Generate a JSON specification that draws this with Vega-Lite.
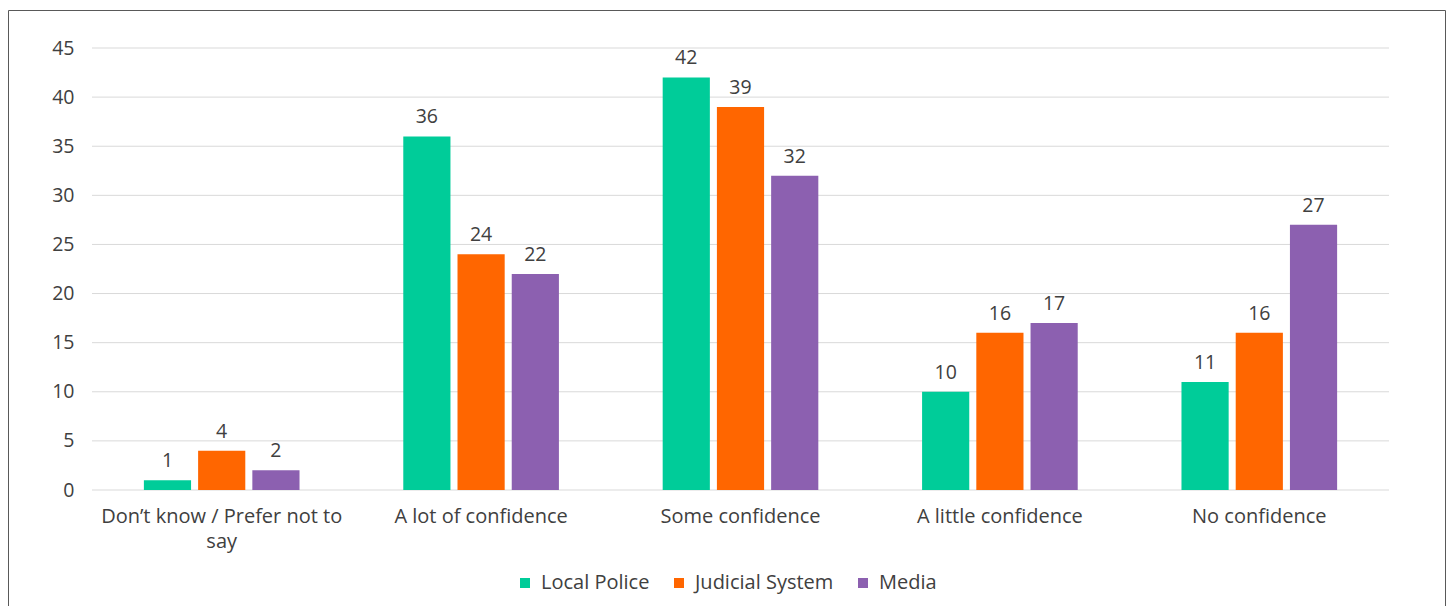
{
  "$schema": "https://vega.github.io/schema/vega-lite/v6.json",
  "width": 1437,
  "height": 600,
  "autosize": {"type": "none"},
  "padding": {"left": 8, "top": 10, "right": 5, "bottom": 0},
  "background": "white",
  "config": {
    "font": "Open Sans",
    "view": {"stroke": "#595959", "strokeWidth": 1},
    "axisY": {"domain": false, "ticks": false, "grid": false, "labelPadding": 0, "offset": -66, "labelFontSize": 19.5, "labelColor": "#404040", "labelFont": "Open Sans"},
    "axisX": {"domain": false, "ticks": false, "grid": false, "labelPadding": 0, "offset": -104, "labelFontSize": 20, "labelColor": "#404040", "labelFont": "Open Sans", "labelAngle": 0, "labelLineHeight": 25, "labelBaseline": "top", "labelLimit": 300},
    "legend": {"orient": "none", "legendX": 507, "legendY": 563, "direction": "horizontal", "symbolType": "square", "symbolSize": 100, "symbolStrokeWidth": 0, "labelFontSize": 20, "labelColor": "#404040", "labelFont": "Open Sans", "columnPadding": 19, "labelOffset": 6, "padding": 0}
  },
  "datasets": {
    "grid": [{"v": 0}, {"v": 5}, {"v": 10}, {"v": 15}, {"v": 20}, {"v": 25}, {"v": 30}, {"v": 35}, {"v": 40}, {"v": 45}],
    "bars": [
      {"category": "Don’t know / Prefer not to say", "series": "Local Police", "value": 1},
      {"category": "Don’t know / Prefer not to say", "series": "Judicial System", "value": 4},
      {"category": "Don’t know / Prefer not to say", "series": "Media", "value": 2},
      {"category": "A lot of confidence", "series": "Local Police", "value": 36},
      {"category": "A lot of confidence", "series": "Judicial System", "value": 24},
      {"category": "A lot of confidence", "series": "Media", "value": 22},
      {"category": "Some confidence", "series": "Local Police", "value": 42},
      {"category": "Some confidence", "series": "Judicial System", "value": 39},
      {"category": "Some confidence", "series": "Media", "value": 32},
      {"category": "A little confidence", "series": "Local Police", "value": 10},
      {"category": "A little confidence", "series": "Judicial System", "value": 16},
      {"category": "A little confidence", "series": "Media", "value": 17},
      {"category": "No confidence", "series": "Local Police", "value": 11},
      {"category": "No confidence", "series": "Judicial System", "value": 16},
      {"category": "No confidence", "series": "Media", "value": 27}
    ]
  },
  "layer": [
    {
      "data": {"name": "grid"},
      "mark": {"type": "rule", "color": "#D9D9D9", "strokeWidth": 1},
      "encoding": {
        "y": {"field": "v", "type": "quantitative", "scale": {"domain": [0, 45], "range": [480, 38], "nice": false}, "axis": {"title": null, "values": [0, 5, 10, 15, 20, 25, 30, 35, 40, 45]}},
        "x": {"datum": 0, "type": "quantitative", "scale": {"domain": [0, 1], "range": [84, 1381]}, "axis": null},
        "x2": {"datum": 1}
      }
    },
    {
      "data": {"name": "bars"},
      "encoding": {
        "x": {"field": "category", "type": "nominal", "sort": ["Don’t know / Prefer not to say", "A lot of confidence", "Some confidence", "A little confidence", "No confidence"], "scale": {"range": [84, 1381], "paddingInner": 0.4, "paddingOuter": 0.2}, "axis": {"title": null, "labelExpr": "datum.value == 'Don’t know / Prefer not to say' ? ['Don’t know / Prefer not to', 'say'] : datum.label"}},
        "xOffset": {"field": "series", "type": "nominal", "sort": ["Local Police", "Judicial System", "Media"], "scale": {"paddingInner": 0.13, "paddingOuter": 0}},
        "y": {"field": "value", "type": "quantitative", "axis": {"title": null, "values": [0, 5, 10, 15, 20, 25, 30, 35, 40, 45]}}
      },
      "layer": [
        {
          "mark": {"type": "bar"},
          "encoding": {
            "color": {"field": "series", "type": "nominal", "sort": ["Local Police", "Judicial System", "Media"], "scale": {"domain": ["Local Police", "Judicial System", "Media"], "range": ["#00CC99", "#FF6600", "#8C60B0"]}, "legend": {"title": null}}
          }
        },
        {
          "mark": {"type": "text", "baseline": "alphabetic", "dy": -13, "fontSize": 19.5, "color": "#404040", "font": "Open Sans"},
          "encoding": {"text": {"field": "value", "type": "quantitative"}}
        }
      ]
    }
  ],
  "resolve": {"scale": {"x": "independent"}}
}
